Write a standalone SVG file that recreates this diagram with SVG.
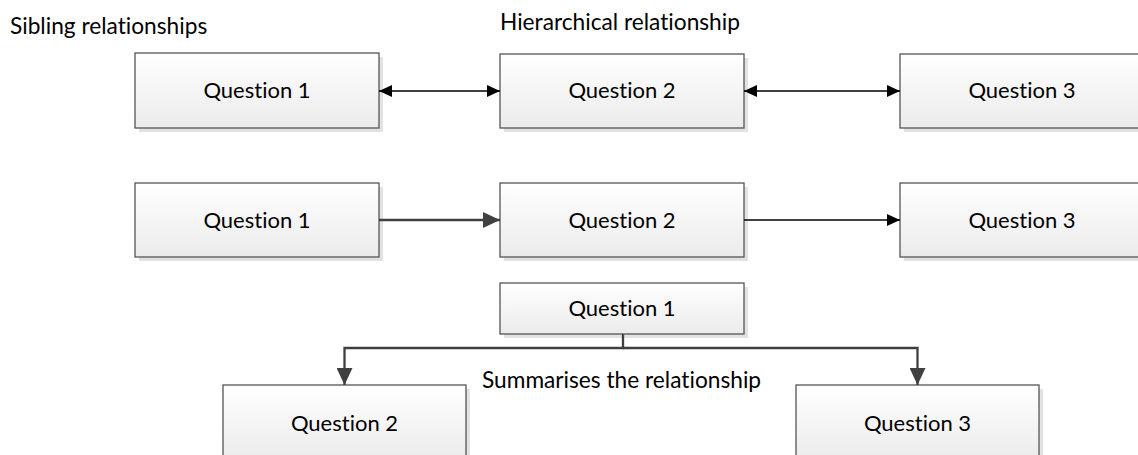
<svg xmlns="http://www.w3.org/2000/svg" width="1138" height="455" viewBox="0 0 1138 455">
<style>
.box{fill:url(#g);stroke:#555;stroke-width:1.3}
.sh{fill:#e2e2e2}
.t{font-family:Lato,"Open Sans","Liberation Sans",sans-serif;font-size:22px;fill:#000;font-variant-ligatures:none}
.l{font-size:22.7px}
.c{text-anchor:middle}
.thin{stroke:#000;stroke-width:1.3;fill:none}
.thick{stroke:#404040;stroke-width:2.3;fill:none}
</style>
<defs>
<linearGradient id="g" x1="0" y1="0" x2="0" y2="1">
<stop offset="0" stop-color="#ffffff"/>
<stop offset="1" stop-color="#ebebeb"/>
</linearGradient>
<marker id="as" markerUnits="userSpaceOnUse" markerWidth="14" markerHeight="12" refX="13" refY="6" orient="auto-start-reverse" viewBox="0 0 14 12">
<path d="M0,0 L13,6 L0,12 z" fill="#000"/>
</marker>
<marker id="ab" markerUnits="userSpaceOnUse" markerWidth="18" markerHeight="16" refX="17" refY="8" orient="auto" viewBox="0 0 18 16">
<path d="M0,0 L17,8 L0,16 z" fill="#404040"/>
</marker>
</defs>

<text class="t l" x="10" y="34">Sibling relationships</text>
<text class="t l" x="500" y="30">Hierarchical relationship</text>
<text class="t l" x="482" y="388">Summarises the relationship</text>

<g id="r1q1"><rect class="sh" x="139" y="57" width="244" height="75"/><rect class="box" x="135" y="53" width="244" height="75"/><text class="t c" x="257" y="98">Question 1</text></g>
<g id="r1q2"><rect class="sh" x="504" y="58" width="244" height="74"/><rect class="box" x="500" y="54" width="244" height="74"/><text class="t c" x="622" y="98">Question 2</text></g>
<g id="r1q3"><rect class="sh" x="904" y="58" width="244" height="74"/><rect class="box" x="900" y="54" width="244" height="74"/><text class="t c" x="1022" y="98">Question 3</text></g>

<g id="r2q1"><rect class="sh" x="139" y="187" width="244" height="74"/><rect class="box" x="135" y="183" width="244" height="74"/><text class="t c" x="257" y="228">Question 1</text></g>
<g id="r2q2"><rect class="sh" x="504" y="187" width="244" height="74"/><rect class="box" x="500" y="183" width="244" height="74"/><text class="t c" x="622" y="228">Question 2</text></g>
<g id="r2q3"><rect class="sh" x="904" y="187" width="244" height="74"/><rect class="box" x="900" y="183" width="244" height="74"/><text class="t c" x="1022" y="228">Question 3</text></g>

<g id="r3q1"><rect class="sh" x="504" y="287" width="244" height="51"/><rect class="box" x="500" y="283" width="244" height="51"/><text class="t c" x="622" y="316">Question 1</text></g>
<g id="r3q2"><rect class="sh" x="227" y="389" width="243" height="75"/><rect class="box" x="223" y="385" width="243" height="75"/><text class="t c" x="344.5" y="431">Question 2</text></g>
<g id="r3q3"><rect class="sh" x="800" y="389" width="243" height="75"/><rect class="box" x="796" y="385" width="243" height="75"/><text class="t c" x="917.5" y="431">Question 3</text></g>

<g id="connectors">
<line class="thin" x1="379" y1="91" x2="500" y2="91" marker-start="url(#as)" marker-end="url(#as)"/>
<line class="thin" x1="744" y1="91" x2="900" y2="91" marker-start="url(#as)" marker-end="url(#as)"/>
<line class="thick" x1="379" y1="220" x2="500" y2="220" stroke-width="2" marker-end="url(#ab)"/>
<line class="thin" x1="744" y1="220" x2="900" y2="220" marker-end="url(#as)"/>
<path class="thick" d="M623,334 V348 H344.5 V385" marker-end="url(#ab)"/>
<path class="thick" d="M623,348 H917.5 V385" marker-end="url(#ab)"/>
</g>
</svg>
